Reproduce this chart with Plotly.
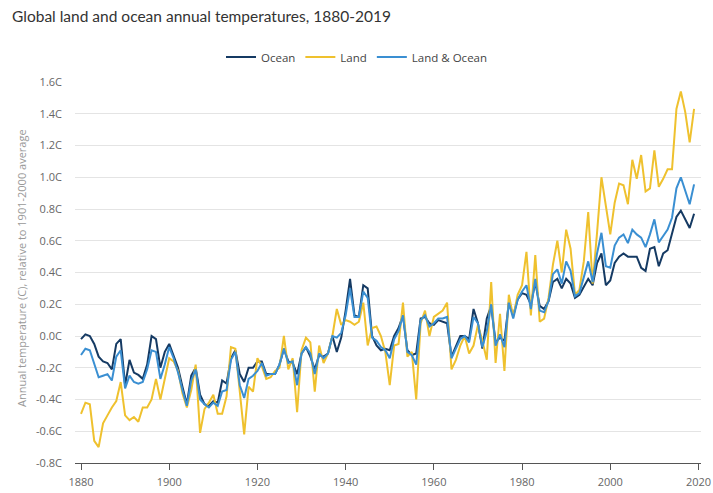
import plotly.graph_objects as go

years = list(range(1880, 2020))

ocean = [
    -0.02, 0.01, 0.00, -0.05, -0.13, -0.16, -0.17, -0.21, -0.05, -0.02,
    -0.31, -0.15, -0.23, -0.245, -0.27, -0.18, 0.00, -0.02, -0.20, -0.10,
    -0.05, -0.13, -0.20, -0.32, -0.43, -0.25, -0.20, -0.37, -0.43, -0.44,
    -0.41, -0.42, -0.28, -0.30, -0.14, -0.09, -0.24, -0.29, -0.20, -0.20,
    -0.16, -0.16, -0.24, -0.24, -0.24, -0.18, -0.08, -0.16, -0.17, -0.24,
    -0.11, -0.07, -0.13, -0.21, -0.12, -0.13, -0.11, 0.00, -0.10, -0.01,
    0.16, 0.36, 0.13, 0.12, 0.32, 0.30, 0.00, -0.06, -0.09, -0.08,
    -0.09, 0.00, 0.05, 0.13, -0.09, -0.12, -0.11, 0.11, 0.12, 0.08,
    0.07, 0.10, 0.09, 0.08, -0.13, -0.06, 0.00, 0.00, -0.02, 0.17,
    0.08, -0.08, 0.11, 0.19, -0.04, -0.01, -0.03, 0.21, 0.13, 0.23,
    0.27, 0.26, 0.20, 0.34, 0.19, 0.17, 0.22, 0.34, 0.36, 0.30,
    0.36, 0.33, 0.24, 0.26, 0.31, 0.36, 0.32, 0.46, 0.52, 0.32,
    0.35, 0.46, 0.50, 0.52, 0.50, 0.50, 0.50, 0.43, 0.41, 0.55,
    0.56, 0.44, 0.52, 0.54, 0.65, 0.75, 0.79, 0.73, 0.68, 0.77,
]

land = [
    -0.49, -0.42, -0.43, -0.66, -0.70, -0.55, -0.50, -0.45, -0.41, -0.29,
    -0.50, -0.53, -0.51, -0.54, -0.45, -0.45, -0.40, -0.27, -0.40, -0.26,
    -0.14, -0.16, -0.22, -0.36, -0.45, -0.34, -0.18, -0.61, -0.46, -0.42,
    -0.37, -0.49, -0.49, -0.38, -0.07, -0.08, -0.33, -0.62, -0.32, -0.35,
    -0.14, -0.19, -0.27, -0.26, -0.22, -0.20, 0.00, -0.21, -0.14, -0.48,
    -0.09, -0.01, -0.04, -0.35, -0.06, -0.17, -0.11, 0.00, 0.17, 0.07,
    0.10, 0.09, 0.07, 0.09, 0.21, -0.06, 0.05, 0.06, 0.00, -0.10,
    -0.31, -0.06, -0.05, 0.21, -0.13, -0.10, -0.40, 0.08, 0.16, 0.00,
    0.12, 0.14, 0.16, 0.21, -0.21, -0.15, -0.06, 0.00, -0.11, -0.06,
    0.07, -0.03, -0.15, 0.34, -0.17, 0.14, -0.22, 0.26, 0.12, 0.26,
    0.32, 0.53, 0.13, 0.51, 0.09, 0.11, 0.24, 0.45, 0.60, 0.40,
    0.67, 0.55, 0.26, 0.29, 0.47, 0.78, 0.33, 0.65, 1.00, 0.82,
    0.64, 0.84, 0.96, 0.95, 0.83, 1.11, 0.99, 1.14, 0.91, 0.93,
    1.17, 0.94, 0.99, 1.05, 1.05, 1.43, 1.54, 1.41, 1.22, 1.43,
]

land_ocean = [
    -0.12, -0.08, -0.09, -0.17, -0.26, -0.25, -0.24, -0.28, -0.13, -0.09,
    -0.33, -0.25, -0.29, -0.30, -0.29, -0.21, -0.09, -0.10, -0.27, -0.18,
    -0.07, -0.14, -0.23, -0.34, -0.44, -0.28, -0.21, -0.40, -0.43, -0.45,
    -0.42, -0.44, -0.35, -0.34, -0.15, -0.10, -0.31, -0.39, -0.27, -0.25,
    -0.22, -0.17, -0.25, -0.24, -0.24, -0.18, -0.08, -0.17, -0.16, -0.31,
    -0.11, -0.07, -0.11, -0.24, -0.11, -0.14, -0.11, 0.00, -0.01, 0.02,
    0.13, 0.30, 0.12, 0.12, 0.28, 0.24, -0.01, -0.03, -0.07, -0.09,
    -0.14, -0.02, 0.03, 0.13, -0.10, -0.12, -0.18, 0.10, 0.13, 0.06,
    0.08, 0.11, 0.11, 0.12, -0.14, -0.08, -0.02, 0.00, -0.04, 0.12,
    0.08, -0.07, 0.03, 0.20, -0.06, 0.01, -0.07, 0.21, 0.11, 0.23,
    0.28, 0.32, 0.17, 0.36, 0.16, 0.15, 0.22, 0.39, 0.42, 0.33,
    0.47, 0.41, 0.25, 0.27, 0.37, 0.47, 0.34, 0.52, 0.65, 0.44,
    0.43, 0.57, 0.62, 0.64, 0.585, 0.67, 0.64, 0.62, 0.56, 0.64,
    0.735, 0.59, 0.63, 0.67, 0.745, 0.93, 1.00, 0.92, 0.83, 0.955,
]

series_names = ["Ocean", "Land", "Land & Ocean"]
series_colors = ["#153a63", "#efc12e", "#3a8fd2"]

y_tickvals = [-0.8, -0.6, -0.4, -0.2, 0.0, 0.2, 0.4, 0.6, 0.8, 1.0, 1.2, 1.4, 1.6]
y_ticktext = ["-0.8C", "-0.6C", "-0.4C", "-0.2C", "0.0C", "0.2C", "0.4C",
              "0.6C", "0.8C", "1.0C", "1.2C", "1.4C", "1.6C"]
x_tickvals = [1880, 1900, 1920, 1940, 1960, 1980, 2000, 2020]

FONT = "Open Sans"
PLOT_W = 713 - 75 - 12
PLOT_H = 493 - 82 - 30

fig = go.Figure()
for name, vals, col in zip(series_names, [ocean, land, land_ocean], series_colors):
    fig.add_trace(go.Scatter(
        x=years, y=vals, name=name, mode="lines",
        line=dict(color=col, width=2),
    ))

fig.update_layout(
    width=713, height=493, autosize=False,
    paper_bgcolor="white", plot_bgcolor="white",
    margin=dict(l=75, r=12, t=82, b=30, autoexpand=False),
    font=dict(family=FONT, size=11, color="#666666"),
    title=dict(
        text="Global land and ocean annual temperatures, 1880-2019",
        font=dict(family="Lato", size=15.5, color="#333333"),
        x=12 / 713, xref="container", xanchor="left",
        y=1 - 17 / 493, yref="container", yanchor="middle",
    ),
    legend=dict(
        orientation="h", x=(357 - 75) / PLOT_W, xanchor="center",
        y=1 + 25 / PLOT_H, yanchor="middle",
        font=dict(family=FONT, size=11.5, color="#444444"),
        traceorder="normal", bgcolor="rgba(0,0,0,0)",
    ),
    showlegend=True,
)

fig.update_xaxes(
    range=[1878.64, 2020.57],
    tickvals=x_tickvals,
    showgrid=False, zeroline=False,
    showline=True, linecolor="#555555", linewidth=1,
    ticks="outside", ticklen=6, tickcolor="#555555", tickwidth=1,
    ticklabelstandoff=3,
    tickfont=dict(family=FONT, size=11, color="#666666"),
)

fig.update_yaxes(
    range=[-0.8, 1.6],
    tickvals=y_tickvals, ticktext=y_ticktext,
    showgrid=True, gridcolor="#e4e4e4", gridwidth=1,
    zeroline=False, showline=False, ticks="",
    ticklabelstandoff=12,
    tickfont=dict(family=FONT, size=11, color="#666666"),
)

fig.add_annotation(
    text="Annual temperature (C), relative to 1901-2000 average",
    textangle=-90, showarrow=False,
    xref="paper", yref="paper",
    x=(22 - 75) / PLOT_W, y=0.512, xanchor="center", yanchor="middle",
    font=dict(family=FONT, size=11, color="#999999"),
)

fig.write_html("out.html")
